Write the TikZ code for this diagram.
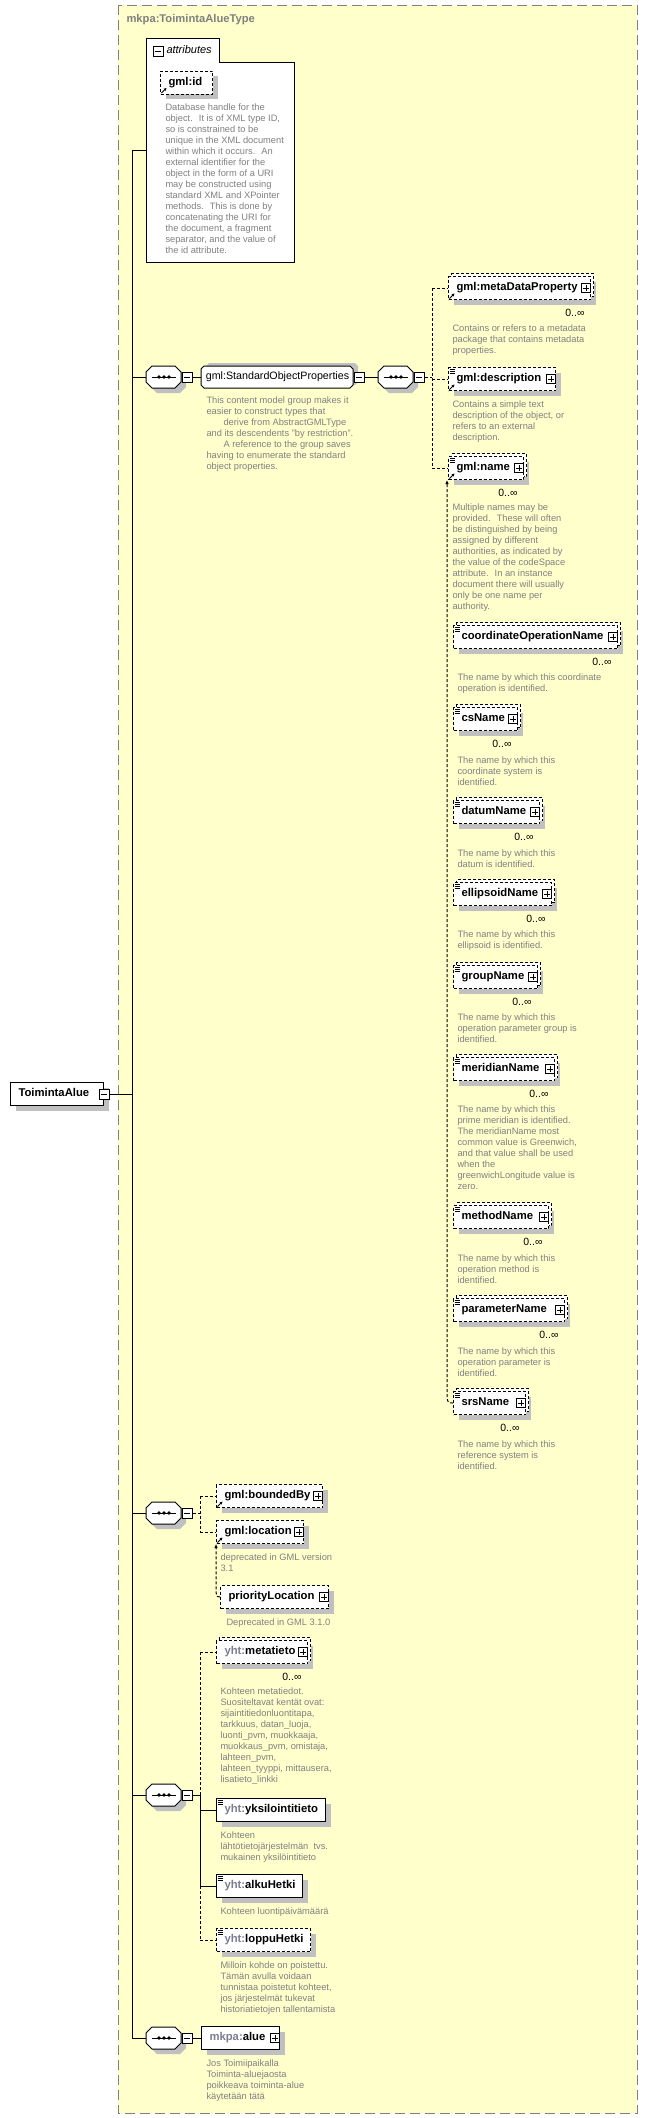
\documentclass[tikz,border=0pt]{standalone}
\usepackage{fontspec}
\setmainfont{Liberation Sans}
\usepackage{tikz}
\usetikzlibrary{shadows,arrows.meta}

\definecolor{typeyellow}{RGB}{255,255,204}
\definecolor{framegray}{RGB}{128,128,128}
\definecolor{descgray}{RGB}{128,128,128}
\definecolor{nsgray}{RGB}{125,125,145}
\definecolor{shadowgray}{RGB}{192,192,192}

\newcommand{\lbl}[2]{\makebox[#1pt][l]{#2}}
\newcommand{\ns}[1]{\textcolor{nsgray}{#1}}

\begin{document}
\begin{tikzpicture}[x=1pt,y=-1pt,line width=1pt,
  elem/.style={draw, fill=white, anchor=west, inner xsep=8pt, inner ysep=0pt,
    minimum height=23pt, text height=8pt, text depth=2.4pt,
    font=\fontsize{11.3}{13}\selectfont\bfseries,
    drop shadow={shadow xshift=5pt, shadow yshift=-5pt, fill=shadowgray, opacity=1}},
  opt/.style={dash pattern=on 3pt off 2pt},
  multi/.style={copy shadow={shadow xshift=3pt, shadow yshift=3pt, draw=black, fill=white, dash pattern=on 3pt off 2pt}},
  seq/.style={inner sep=0pt, anchor=west, minimum width=35pt, minimum height=22pt},
  grp/.style={inner sep=0pt, anchor=west, minimum width=152pt, minimum height=22pt, font=\fontsize{10.7}{12}\selectfont},
  minusbox/.style={draw, fill=white, line width=0.8pt, minimum size=10pt, inner sep=0pt,
    path picture={\draw[line width=0.8pt] ([xshift=2pt]path picture bounding box.west) -- ([xshift=-2pt]path picture bounding box.east);}},
  plusbox/.style={minusbox, minimum size=9pt,
    path picture={\draw[line width=0.8pt] ([xshift=1.8pt]path picture bounding box.west) -- ([xshift=-1.8pt]path picture bounding box.east)
      ([yshift=-1.8pt]path picture bounding box.north) -- ([yshift=1.8pt]path picture bounding box.south);}},
  desc/.style={anchor=north west, inner sep=0pt, align=left, text=descgray, font=\fontsize{9.3}{11}\selectfont},
  mult/.style={anchor=east, inner sep=0pt, font=\fontsize{10.5}{12}\selectfont},
  refarrow/.style={line width=0.8pt, -{Stealth[length=3pt,width=3pt]}},
]
\useasboundingbox (0,0) rectangle (648,2118);

%Shape: complex type frame
\draw[framegray, fill=typeyellow, dash pattern=on 10pt off 5pt] (118,5) rectangle (637,2113);
% Text Node
\node[anchor=west, inner sep=0pt, text=framegray, font=\fontsize{11.2}{13}\selectfont\bfseries] (typename) at (126,20) {mkpa:ToimintaAlueType};

%Shape: attributes box
\node[anchor=north west, inner sep=0pt, minimum width=147pt, minimum height=199pt] (attrs) at (146,62) {};
\draw[fill=white] (attrs.south west) -- (146,38) -- (219,38) -- (219,62) -- (attrs.north east) -- (attrs.south east) -- cycle;
\node[minusbox] (attrsm) at (158,51) {};
\node[anchor=west, inner sep=0pt, font=\fontsize{11}{13}\selectfont\itshape] (attrslbl) at (166,50) {attributes};
\node[elem, opt] (gmlid) at (160,82.5) {\lbl{36}{gml:id}};
% Text Node
\node[desc] (gmliddesc) at (165,103) {Database handle for the\\object.~ It is of XML type ID,\\so is constrained to be\\unique in the XML document\\within which it occurs.~ An\\external identifier for the\\object in the form of a URI\\may be constructed using\\standard XML and XPointer\\methods.~ This is done by\\concatenating the URI for\\the document, a fragment\\separator, and the value of\\the id attribute.};

%Shape: root element
\node[elem] (root) at (10,1094) {\lbl{77}{ToimintaAlue}};
\node[minusbox] (rootm) at (root.east) {};

%Shape: sequences
\node[seq] (seq1) at (146,377) {};
\node[seq] (seq2) at (378,377) {};
\node[seq] (seq3) at (146,1513) {};
\node[seq] (seq4) at (146,1795) {};
\node[seq] (seq5) at (146,2038) {};
\foreach \s in {seq1,seq2,seq3,seq4,seq5} {
  \fill[shadowgray] ([xshift=5pt,yshift=-5pt]\s.west) -- ++(0,-5) -- ++(6,-6) -- ++(23,0) -- ++(6,6) -- ++(0,10) -- ++(-6,6) -- ++(-23,0) -- ++(-6,-6) -- cycle;
  \draw[fill=white] (\s.west) -- ++(0,-5) -- ++(6,-6) -- ++(23,0) -- ++(6,6) -- ++(0,10) -- ++(-6,6) -- ++(-23,0) -- ++(-6,-6) -- cycle;
  \node[minusbox, anchor=west] (\s m) at (\s.east) {};
  \draw ([xshift=6pt]\s.west) -- ([xshift=-6pt]\s.east);
  \foreach \d in {-5,0,5} \fill ([xshift=\d pt]\s.center) circle (1.8pt);
}

%Shape: group
\fill[shadowgray] (206,374) -- ++(0,-8) -- ++(3,-3) -- ++(146,0) -- ++(3,3) -- ++(0,16) -- ++(-3,3) -- ++(-146,0) -- ++(-3,-3) -- cycle;
\draw[fill=white] (201,369) -- ++(3,-3) -- ++(146,0) -- ++(3,3) -- ++(0,16) -- ++(-3,3) -- ++(-146,0) -- ++(-3,-3) -- cycle;
\node[grp] (sop) at (201,377) {gml:StandardObjectProperties};
\node[minusbox, anchor=west] (sopm) at (sop.east) {};
% Text Node
\node[desc] (sopdesc) at (206,396) {This content model group makes it\\easier to construct types that\\\hspace*{17pt}derive from AbstractGMLType\\and its descendents "by restriction".\\\hspace*{17pt}A reference to the group saves\\having to enumerate the standard\\object properties.};

%Shape: group members
\node[elem, opt, multi] (metaprop) at (448,288) {\lbl{126}{gml:metaDataProperty}};
\node[elem, opt] (descr) at (448,379) {\lbl{91}{gml:description}};
\node[elem, opt, multi] (name) at (448,468) {\lbl{59}{gml:name}};
\node[elem, opt, multi] (coordop) at (453,637) {\lbl{148}{coordinateOperationName}};
\node[elem, opt, multi] (csname) at (453,719) {\lbl{48}{csName}};
\node[elem, opt, multi] (datum) at (453,812) {\lbl{70}{datumName}};
\node[elem, opt, multi] (ellipsoid) at (453,894) {\lbl{82}{ellipsoidName}};
\node[elem, opt, multi] (group) at (453,977) {\lbl{68}{groupName}};
\node[elem, opt, multi] (meridian) at (453,1069) {\lbl{85}{meridianName}};
\node[elem, opt, multi] (method) at (453,1217) {\lbl{79}{methodName}};
\node[elem, opt, multi] (param) at (453,1310) {\lbl{95}{parameterName}};
\node[elem, opt, multi] (srs) at (453,1403) {\lbl{56}{srsName}};

% Text Node
\node[desc] (metapropdesc) at (452,324) {Contains or refers to a metadata\\package that contains metadata\\properties.};
\node[desc] (descrdesc) at (452,400) {Contains a simple text\\description of the object, or\\refers to an external\\description.};
\node[desc] (namedesc) at (452,503) {Multiple names may be\\provided.~ These will often\\be distinguished by being\\assigned by different\\authorities, as indicated by\\the value of the codeSpace\\attribute.~ In an instance\\document there will usually\\only be one name per\\authority.};
\node[desc] (coordopdesc) at (457,673) {The name by which this coordinate\\operation is identified.};
\node[desc] (csnamedesc) at (457,756) {The name by which this\\coordinate system is\\identified.};
\node[desc] (datumdesc) at (457,849) {The name by which this\\datum is identified.};
\node[desc] (ellipsoiddesc) at (457,930) {The name by which this\\ellipsoid is identified.};
\node[desc] (groupdesc) at (457,1013) {The name by which this\\operation parameter group is\\identified.};
\node[desc] (meridiandesc) at (457,1105) {The name by which this\\prime meridian is identified.\\The meridianName most\\common value is Greenwich,\\and that value shall be used\\when the\\greenwichLongitude value is\\zero.};
\node[desc] (methoddesc) at (457,1254) {The name by which this\\operation method is\\identified.};
\node[desc] (paramdesc) at (457,1347) {The name by which this\\operation parameter is\\identified.};
\node[desc] (srsdesc) at (457,1440) {The name by which this\\reference system is\\identified.};

%Shape: second sequence members
\node[elem, opt] (boundedby) at (216,1496) {\lbl{90}{gml:boundedBy}};
\node[elem, opt] (location) at (216,1532) {\lbl{71}{gml:location}};
\node[elem, opt] (prio) at (220,1597) {\lbl{92}{priorityLocation}};
% Text Node
\node[desc] (locationdesc) at (220,1553) {deprecated in GML version\\3.1};
\node[desc] (priodesc) at (226,1618) {Deprecated in GML 3.1.0};

%Shape: third sequence members
\node[elem, opt, multi] (metatieto) at (216,1652) {\lbl{75}{\ns{yht:}metatieto}};
\node[elem] (yksi) at (216,1810) {\lbl{93}{\ns{yht:}yksilointitieto}};
\node[elem] (alku) at (216,1886) {\lbl{70}{\ns{yht:}alkuHetki}};
\node[elem, opt] (loppu) at (216,1940) {\lbl{78}{\ns{yht:}loppuHetki}};
% Text Node
\node[desc] (metatietodesc) at (220,1687) {Kohteen metatiedot.\\Suositeltavat kentät ovat:\\sijaintitiedonluontitapa,\\tarkkuus, datan\_luoja,\\luonti\_pvm, muokkaaja,\\muokkaus\_pvm, omistaja,\\lahteen\_pvm,\\lahteen\_tyyppi, mittausera,\\lisatieto\_linkki};
\node[desc] (yksidesc) at (220,1831) {Kohteen\\lähtötietojärjestelmän~ tvs.\\mukainen yksilöintitieto};
\node[desc] (alkudesc) at (220,1907) {Kohteen luontipäivämäärä};
\node[desc] (loppudesc) at (220,1961) {Milloin kohde on poistettu.\\Tämän avulla voidaan\\tunnistaa poistetut kohteet,\\jos järjestelmät tukevat\\historiatietojen tallentamista};

%Shape: last sequence member
\node[elem] (alue) at (201,2038) {\lbl{62}{\ns{mkpa:}alue}};
% Text Node
\node[desc] (aluedesc) at (206,2059) {Jos Toimiipaikalla\\Toiminta-aluejaosta\\poikkeava toiminta-alue\\käytetään tätä};

%Shape: element marks
\foreach \n in {metaprop,descr,name,coordop,csname,datum,ellipsoid,group,meridian,method,param,srs,boundedby,location,prio,metatieto,alue}
  \node[plusbox] (\n-p) at ([xshift=-5pt]\n.east) {};
\foreach \n in {metaprop,name,coordop,csname,datum,ellipsoid,group,meridian,method,param,srs,metatieto}
  \node[mult] (\n-m) at ([xshift=-6pt,yshift=-12.5pt]\n.south east) {0..∞};
\foreach \n in {descr,name,coordop,csname,datum,ellipsoid,group,meridian,method,param,srs,yksi,alku,loppu}
  \foreach \k in {2.2,4.2,6.2}
    \draw[line width=0.6pt] ([xshift=1.5pt,yshift=-\k pt]\n.north west) -- ++(5,0);
\foreach \n in {gmlid,metaprop,descr,name,boundedby,location}
  \draw[refarrow] ([xshift=1.5pt,yshift=1.5pt]\n.south west) -- ++(5,-5);

%Straight Lines: trunk
\coordinate (ttop) at (132,150);
\coordinate (tbot) at (132,2038);
\draw (ttop) -- (tbot);
\draw (rootm.east) -- (rootm.east -| ttop);
\draw (ttop) -- (attrs.west |- ttop);
\draw (seq1 -| ttop) -- (seq1.west);
\draw (seq3 -| ttop) -- (seq3.west);
\draw (seq4 -| ttop) -- (seq4.west);
\draw (tbot) -- (seq5.west);

%Straight Lines: standard object properties
\coordinate (c2a) at (432,288);
\coordinate (c2b) at (432,468);
\draw (seq1m.east) -- (sop.west);
\draw (sopm.east) -- (seq2.west);
\draw[opt] (seq2m.east) -- (seq2m.east -| c2a);
\draw[opt] (c2a) -- (c2b);
\draw[opt] (c2a) -- (metaprop.west);
\draw[opt] (descr.west -| c2a) -- (descr.west);
\draw[opt] (c2b) -- (name.west);
\coordinate (sub1) at (447,1397);
\draw[opt, -{Latex[length=4pt,width=3.5pt]}] (srs.west) .. controls (448,1403) .. (sub1) -- (sub1 |- name.south);

%Straight Lines: bounded by, location
\coordinate (c3a) at (200,1496);
\coordinate (c3b) at (200,1532);
\draw[opt] (seq3m.east) -- (seq3m.east -| c3a);
\draw[opt] (c3a) -- (c3b);
\draw[opt] (c3a) -- (boundedby.west);
\draw[opt] (c3b) -- (location.west);
\coordinate (sub2) at (216,1592);
\draw[opt, -{Latex[length=4pt,width=3.5pt]}] (prio.west) .. controls (217,1597) .. (sub2) -- (location.south west);

%Straight Lines: metadata
\coordinate (c4a) at (200,1652);
\coordinate (c4b) at (200,1940);
\draw (seq4m.east) -- (seq4m.east -| c4a);
\draw[opt] (c4a) -- (seq4m.east -| c4a);
\draw (seq4m.east -| c4a) -- (alku.west -| c4a);
\draw[opt] (alku.west -| c4a) -- (c4b);
\draw[opt] (c4a) -- (metatieto.west);
\draw (yksi.west -| c4a) -- (yksi.west);
\draw (alku.west -| c4a) -- (alku.west);
\draw[opt] (c4b) -- (loppu.west);

%Straight Lines: area
\draw (seq5m.east) -- (alue.west);
\end{tikzpicture}
\end{document}
